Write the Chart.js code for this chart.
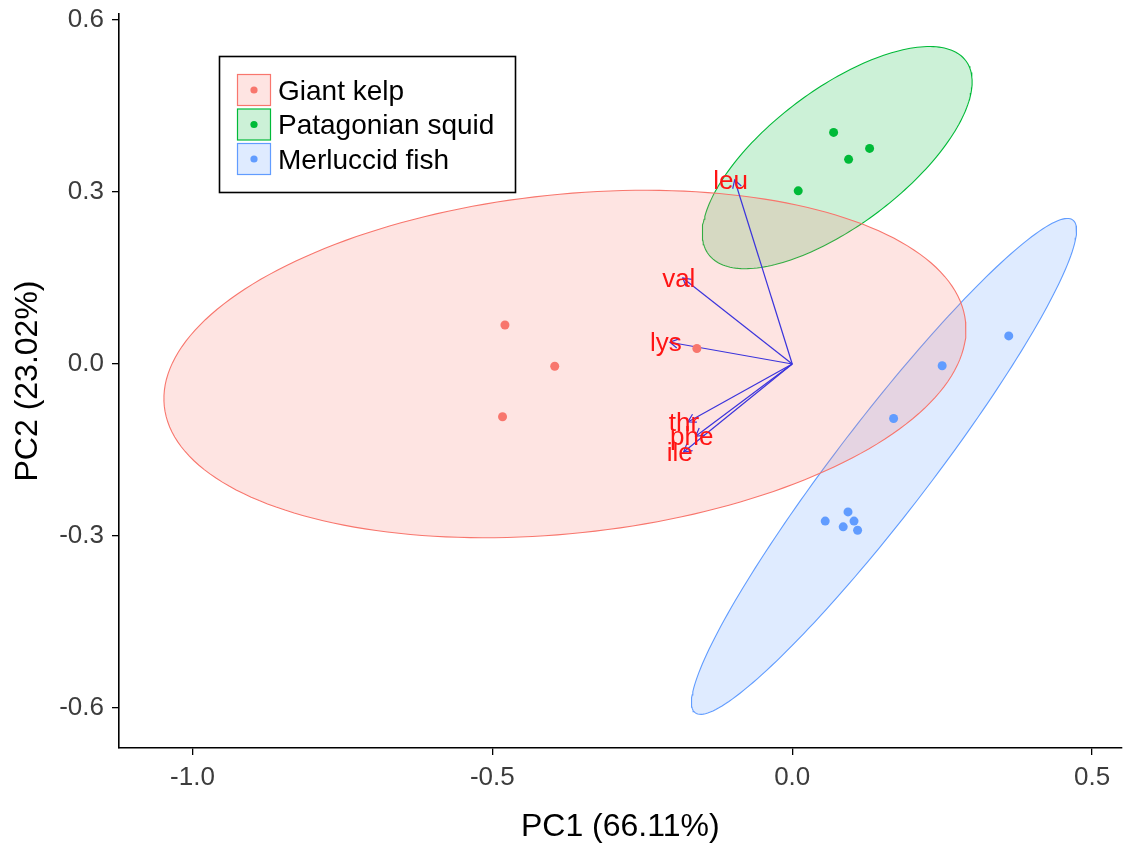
<!DOCTYPE html>
<html>
<head>
<meta charset="utf-8">
<script src="https://cdn.jsdelivr.net/npm/chart.js@4.4.1/dist/chart.umd.min.js"></script>
<style>
  html, body { margin: 0; padding: 0; background: #ffffff; }
  #wrap { width: 1126px; height: 846px; }
</style>
</head>
<body>
<div id="wrap"><canvas id="pca" width="1126" height="846"></canvas></div>
<script>
// ---- PCA scores per group ----
const groups = ['Giant kelp', 'Patagonian squid', 'Merluccid fish'];

const kelpPC1 = [-0.479, -0.396, -0.483, -0.159];
const kelpPC2 = [0.068, -0.004, -0.092, 0.027];

const squidPC1 = [0.069, 0.129, 0.094, 0.010];
const squidPC2 = [0.404, 0.376, 0.357, 0.302];

const fishPC1 = [0.361, 0.250, 0.169, 0.093, 0.055, 0.103, 0.085, 0.109];
const fishPC2 = [0.049, -0.003, -0.095, -0.258, -0.274, -0.274, -0.284, -0.290];

// ---- normal-probability ellipses: centre and two conjugate half-axes (PC units) ----
const kelpEllipse  = { cx: -0.379, cy: 0.000,  ux: 0.668, uy: 0.0735, vx: 0.0295, vy: -0.294 };
const squidEllipse = { cx: 0.075,  cy: 0.360,  ux: 0.2144, uy: 0.169, vx: 0.0682, vy: -0.0948 };
const fishEllipse  = { cx: 0.153,  cy: -0.1786, ux: 0.315, uy: 0.4296, vx: 0.0621, vy: -0.0499 };

// ---- variable loadings (arrow tips) ----
const loadingNames = ['leu', 'val', 'lys', 'thr', 'phe', 'ile'];
const loadingPC1 = [-0.096, -0.1825, -0.204, -0.174, -0.161, -0.181];
const loadingPC2 = [0.321, 0.150, 0.038, -0.101, -0.126, -0.1535];

// ---- axes ----
const xTicks = [-1.0, -0.5, 0.0, 0.5];
const yTicks = [-0.6, -0.3, 0.0, 0.3, 0.6];
const xTitle = 'PC1 (66.11%)';
const yTitle = 'PC2 (23.02%)';

// ---- styling ----
const groupColors = ['#F8766D', '#00BA38', '#619CFF'];
const groupFills = ['rgba(248,118,109,0.2)', 'rgba(0,186,56,0.2)', 'rgba(97,156,255,0.2)'];
const arrowColor = '#3b34dc';
const labelColor = '#ff1414';
const FONT = '"Liberation Sans", Arial, sans-serif';

function toPoints(xs, ys) {
  return xs.map((x, i) => ({ x: x, y: ys[i] }));
}

function ellipseOutline(e) {
  const pts = [];
  const n = 200;
  for (let i = 0; i <= n; i++) {
    const t = (2 * Math.PI * i) / n;
    const c = Math.cos(t), s = Math.sin(t);
    pts.push({ x: e.cx + e.ux * c + e.vx * s, y: e.cy + e.uy * c + e.vy * s });
  }
  return pts;
}

const scoreSets = [toPoints(kelpPC1, kelpPC2), toPoints(squidPC1, squidPC2), toPoints(fishPC1, fishPC2)];
const ellipses = [kelpEllipse, squidEllipse, fishEllipse];

const datasets = [];

// ellipses (bottom layer)
ellipses.forEach((e, g) => {
  datasets.push({
    label: groups[g] + ' ellipse',
    data: ellipseOutline(e),
    showLine: true,
    fill: 'shape',
    backgroundColor: groupFills[g],
    borderColor: groupColors[g],
    borderWidth: 1.1,
    pointRadius: 0,
    pointHoverRadius: 0,
    tension: 0,
    order: 3
  });
});

// loading arrows
loadingNames.forEach((name, i) => {
  datasets.push({
    label: name,
    data: [{ x: 0, y: 0 }, { x: loadingPC1[i], y: loadingPC2[i] }],
    showLine: true,
    borderColor: arrowColor,
    borderWidth: 1.2,
    pointRadius: 0,
    pointHoverRadius: 0,
    fill: false,
    order: 2
  });
});

// sample scores
scoreSets.forEach((pts, g) => {
  datasets.push({
    label: groups[g],
    data: pts,
    showLine: false,
    pointRadius: 4.5,
    pointHoverRadius: 4.5,
    pointBackgroundColor: groupColors[g],
    pointBorderWidth: 0,
    backgroundColor: groupColors[g],
    borderColor: groupColors[g],
    order: 1
  });
});

// arrowheads and variable names at the loading tips
const loadingDecor = {
  id: 'loadingDecor',
  afterDatasetsDraw(chart) {
    const ctx = chart.ctx;
    const xs = chart.scales.x, ys = chart.scales.y;
    const x0 = xs.getPixelForValue(0), y0 = ys.getPixelForValue(0);
    ctx.save();
    ctx.strokeStyle = arrowColor;
    ctx.lineWidth = 1.2;
    loadingNames.forEach((name, i) => {
      const px = xs.getPixelForValue(loadingPC1[i]);
      const py = ys.getPixelForValue(loadingPC2[i]);
      const ang = Math.atan2(py - y0, px - x0);
      const len = 9, spread = Math.PI / 6;
      ctx.beginPath();
      ctx.moveTo(px - len * Math.cos(ang - spread), py - len * Math.sin(ang - spread));
      ctx.lineTo(px, py);
      ctx.lineTo(px - len * Math.cos(ang + spread), py - len * Math.sin(ang + spread));
      ctx.stroke();
    });
    ctx.fillStyle = labelColor;
    ctx.font = '26px ' + FONT;
    ctx.textAlign = 'center';
    ctx.textBaseline = 'middle';
    loadingNames.forEach((name, i) => {
      const px = xs.getPixelForValue(loadingPC1[i]);
      const py = ys.getPixelForValue(loadingPC2[i]);
      ctx.fillText(name, px - 4, py + 2);
    });
    ctx.restore();
  }
};

// boxed legend in the upper left of the panel
const boxedLegend = {
  id: 'boxedLegend',
  afterDraw(chart) {
    const ctx = chart.ctx;
    const bx = 219.5, by = 56.5, bw = 296, bh = 136;
    ctx.save();
    ctx.fillStyle = '#ffffff';
    ctx.fillRect(bx, by, bw, bh);
    ctx.strokeStyle = '#000000';
    ctx.lineWidth = 1.6;
    ctx.strokeRect(bx, by, bw, bh);
    const keyX = 237.5, keyW = 33, keyH = 31, rowTop = 74.5, rowStep = 34.5;
    ctx.font = '28px ' + FONT;
    ctx.textBaseline = 'middle';
    ctx.textAlign = 'left';
    groups.forEach((name, g) => {
      const ky = rowTop + g * rowStep;
      ctx.fillStyle = groupFills[g];
      ctx.fillRect(keyX, ky, keyW, keyH);
      ctx.strokeStyle = groupColors[g];
      ctx.lineWidth = 1.2;
      ctx.strokeRect(keyX, ky, keyW, keyH);
      ctx.fillStyle = groupColors[g];
      ctx.beginPath();
      ctx.arc(keyX + keyW / 2, ky + keyH / 2, 3.6, 0, Math.PI * 2);
      ctx.fill();
      ctx.fillStyle = '#000000';
      ctx.fillText(name, 278, ky + keyH / 2 + 2);
    });
    ctx.restore();
  }
};

new Chart(document.getElementById('pca'), {
  type: 'scatter',
  data: { datasets: datasets },
  plugins: [loadingDecor, boxedLegend],
  options: {
    responsive: false,
    animation: false,
    events: [],
    layout: { padding: { top: 14, right: 4, left: 0, bottom: 0 } },
    plugins: {
      legend: { display: false },
      tooltip: { enabled: false }
    },
    scales: {
      x: {
        type: 'linear',
        min: -1.1225,
        max: 0.549,
        afterBuildTicks(scale) { scale.ticks = xTicks.map(v => ({ value: v })); },
        afterFit(scale) {
          scale.height = 98;
          scale.paddingLeft = 0;
          scale.paddingRight = 0;
        },
        ticks: {
          callback: v => v.toFixed(1),
          font: { family: FONT, size: 26 },
          color: '#3c3c3c',
          padding: 7,
          maxRotation: 0,
          autoSkip: false
        },
        grid: { display: true, drawOnChartArea: false, drawTicks: true, tickLength: 7, color: '#000000', lineWidth: 1.3 },
        border: { display: true, color: '#000000', width: 1.6 },
        title: { display: true, text: xTitle, font: { family: FONT, size: 32 }, color: '#000000', padding: { top: 0, bottom: 0 } }
      },
      y: {
        type: 'linear',
        min: -0.6698,
        max: 0.6105,
        afterBuildTicks(scale) { scale.ticks = yTicks.map(v => ({ value: v })); },
        afterFit(scale) {
          scale.width = 119;
          scale.paddingTop = 0;
          scale.paddingBottom = 0;
        },
        ticks: {
          callback: v => v.toFixed(1),
          font: { family: FONT, size: 26 },
          color: '#3c3c3c',
          padding: 8,
          autoSkip: false
        },
        grid: { display: true, drawOnChartArea: false, drawTicks: true, tickLength: 7, color: '#000000', lineWidth: 1.3 },
        border: { display: true, color: '#000000', width: 1.6 },
        title: { display: true, text: yTitle, font: { family: FONT, size: 32 }, color: '#000000', padding: { top: 9, bottom: 0 } }
      }
    }
  }
});
</script>
</body>
</html>
